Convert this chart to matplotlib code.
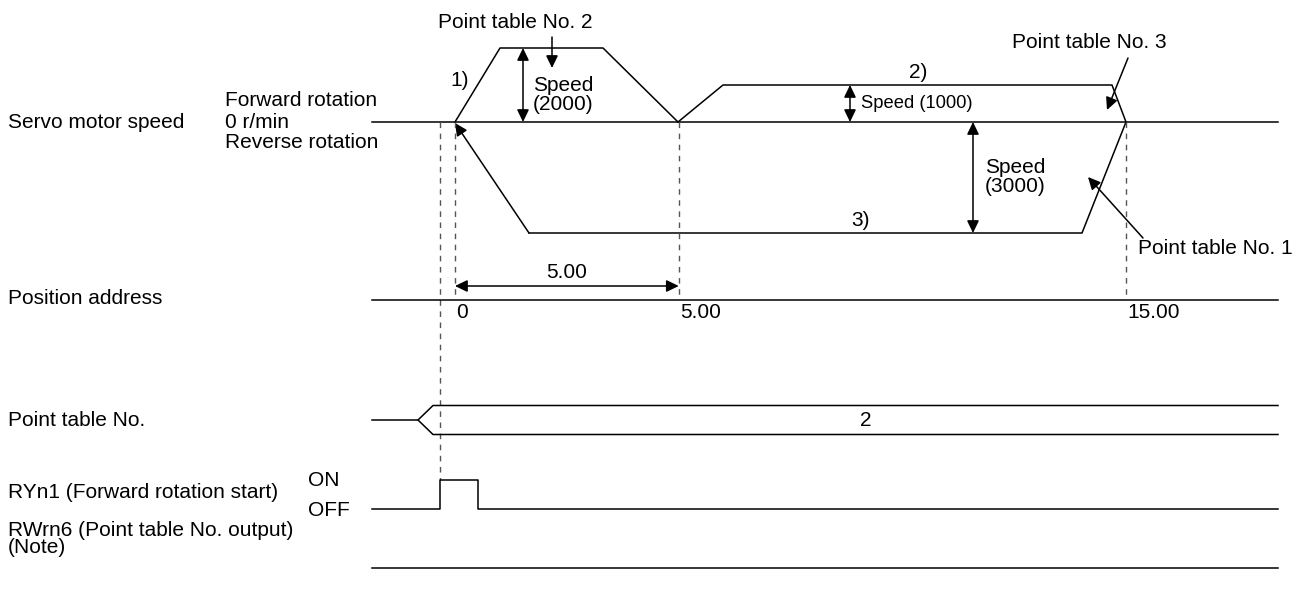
import matplotlib
matplotlib.use("Agg")
import matplotlib.pyplot as plt
from matplotlib.patches import FancyArrowPatch

plt.rcParams['font.family'] = ['Liberation Sans', 'DejaVu Sans']

# ---------------- data ----------------
# horizontal time/position scale (diagram units)
t_start = 440            # forward rotation start signal edge
t_pulse_end = 478        # end of RYn1 ON pulse
positions = [0, 5.00, 15.00]            # position address values
position_labels = ["0", "5.00", "15.00"]

# speed profiles (time, r/min)
move1_t = [455, 500, 603, 678]
move1_v = [0, 2000, 2000, 0]
move2_t = [678, 723, 1112, 1126]
move2_v = [0, 1000, 1000, 0]
move3_t = [1126, 1082, 529, 455]
move3_v = [0, -3000, -3000, 0]

speed_marks = [(523, 2000), (850, 1000), (973, -3000)]
speed_texts = ["Speed\n(2000)", "Speed (1000)", "Speed\n(3000)"]

row_labels = ["Servo motor speed", "Position address", "Point table No.",
              "RYn1 (Forward rotation start)", "RWrn6 (Point table No. output)\n(Note)"]
point_table_value = "2"

# ---------------- layout helpers ----------------
X_L, X_R = 372, 1278
Y_SPEED0 = 122
K_SPEED = 0.037          # px per r/min
Y_POS = 300
Y_PT = 420
PT_HALF = 14.5
Y_ON, Y_OFF = 480, 509
Y_RW = 568
POS_X0, POS_K = 455, 44.75

def sy(v):
    return Y_SPEED0 - v * K_SPEED

def px(p):
    return POS_X0 + p * POS_K

W, H = 1306, 593
fig = plt.figure(figsize=(W / 100, H / 100), dpi=100)
ax = fig.add_axes([0, 0, 1, 1])
ax.set_xlim(0, W)
ax.set_ylim(H, 0)
ax.axis('off')

LW = 1.1
FS = 15
FS_S = 13.2
DASH = dict(color='#555555', lw=1.0, ls=(0, (4, 4)))

def arrow(p1, p2, double=False):
    head = "head_length=0.62,head_width=0.3"
    style = ('<|-|>,' if double else '-|>,') + head
    a = FancyArrowPatch(p1, p2, arrowstyle=style, mutation_scale=12,
                        color='black', lw=LW, shrinkA=0, shrinkB=0)
    ax.add_patch(a)

# ---------------- speed row ----------------
ax.plot([X_L, X_R], [Y_SPEED0, Y_SPEED0], color='black', lw=LW)
ax.plot(move1_t, [sy(v) for v in move1_v], color='black', lw=LW)
ax.plot(move2_t, [sy(v) for v in move2_v], color='black', lw=LW)
ax.plot(move3_t[:-1], [sy(v) for v in move3_v[:-1]], color='black', lw=LW)
arrow((move3_t[-2], sy(move3_v[-2])), (move3_t[-1], sy(move3_v[-1]) + 1))

for (x, v) in speed_marks:
    arrow((x, sy(0)), (x, sy(v)), double=True)
for (x, v), txt in zip(speed_marks, speed_texts):
    if v == 1000:
        ax.text(x + 11, 104, txt, fontsize=FS_S, va='center', ha='left')
    elif v == 2000:
        ax.text(x + 10, 95, txt, fontsize=FS, va='center', ha='left', linespacing=1.05)
    else:
        ax.text(x + 12, 177, txt, fontsize=FS, va='center', ha='left', linespacing=1.0)

ax.text(460, 81, "1)", fontsize=FS, va='center', ha='center')
ax.text(918, 72, "2)", fontsize=FS, va='center', ha='center')
ax.text(860, 221, "3)", fontsize=FS, va='center', ha='center')

ax.text(515, 22, "Point table No. 2", fontsize=FS, va='center', ha='center')
arrow((552, 37), (552, 68))
ax.text(1089, 43, "Point table No. 3", fontsize=FS, va='center', ha='center')
arrow((1128, 58), (1107, 110))
ax.text(1138, 248, "Point table No. 1", fontsize=FS, va='center', ha='left')
arrow((1143, 238), (1088, 177))

ax.text(225, 101, "Forward rotation", fontsize=FS, va='center', ha='left')
ax.text(225, 122, "0 r/min", fontsize=FS, va='center', ha='left')
ax.text(225, 143, "Reverse rotation", fontsize=FS, va='center', ha='left')

# dashed guides
ax.plot([t_start, t_start], [Y_SPEED0, Y_ON], **DASH)
for p in positions:
    ax.plot([px(p), px(p)], [Y_SPEED0, Y_POS], **DASH)

# ---------------- position row ----------------
ax.plot([X_L, X_R], [Y_POS, Y_POS], color='black', lw=LW)
for p, lab in zip(positions, position_labels):
    ax.text(px(p) + 1, 313, lab, fontsize=FS, va='center', ha='left')
arrow((px(positions[0]), 286), (px(positions[1]), 286), double=True)
ax.text((px(positions[0]) + px(positions[1])) / 2, 273, "5.00", fontsize=FS,
        va='center', ha='center')

# ---------------- point table row ----------------
x_split = t_start - 22
x_open = t_start - 7
ax.plot([X_L, x_split, x_open, X_R], [Y_PT, Y_PT, Y_PT - PT_HALF, Y_PT - PT_HALF],
        color='black', lw=LW)
ax.plot([x_split, x_open, X_R], [Y_PT, Y_PT + PT_HALF, Y_PT + PT_HALF],
        color='black', lw=LW)
ax.text(866, Y_PT, point_table_value, fontsize=FS, va='center', ha='center')

# ---------------- RYn1 ----------------
ax.plot([X_L, t_start, t_start, t_pulse_end, t_pulse_end, X_R],
        [Y_OFF, Y_OFF, Y_ON, Y_ON, Y_OFF, Y_OFF], color='black', lw=LW)
ax.text(308, 480, "ON", fontsize=FS, va='center', ha='left')
ax.text(308, 510, "OFF", fontsize=FS, va='center', ha='left')

# ---------------- RWrn6 ----------------
ax.plot([X_L, X_R], [Y_RW, Y_RW], color='black', lw=LW)

# ---------------- row labels ----------------
label_y = [122, 298, 421, 493, 539]
for lab, y in zip(row_labels, label_y):
    ax.text(8, y, lab, fontsize=FS, va='center', ha='left', linespacing=0.92)

fig.savefig("out.png", dpi=100)
